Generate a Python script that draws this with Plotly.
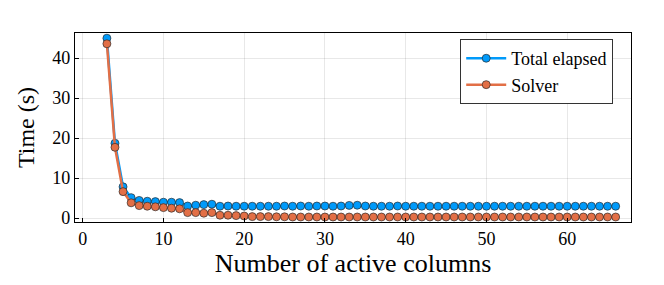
import plotly.graph_objects as go

columns = list(range(3, 67))
total_elapsed = [45.0, 18.7, 7.8, 5.1, 4.4, 4.2, 4.1, 3.95, 3.95, 3.85, 3.0, 3.2, 3.35, 3.45, 2.95, 3.0,
                 2.95, 2.95, 2.95, 2.95, 2.95, 2.95, 3.0, 2.95, 3.0, 2.95, 3.0, 3.0, 2.95, 3.0,
                 3.15, 3.2, 3.0, 2.95, 2.95, 2.95, 3.0, 2.95, 2.95, 2.95, 2.95, 2.95, 2.95, 2.95,
                 2.95, 2.95, 2.95, 2.95, 2.95, 2.95, 2.95, 2.95, 2.95, 2.95, 2.95, 2.95, 2.95, 2.95,
                 2.95, 2.95, 2.95, 2.95, 2.95, 2.95]
solver = [43.6, 17.7, 6.6, 3.8, 3.1, 2.95, 2.8, 2.6, 2.45, 2.3, 1.35, 1.35, 1.2, 1.35, 0.7, 0.7,
          0.6, 0.5, 0.35, 0.35, 0.35, 0.3, 0.3, 0.25, 0.25, 0.25, 0.25, 0.25, 0.25, 0.25,
          0.25, 0.25, 0.25, 0.25, 0.25, 0.25, 0.25, 0.25, 0.25, 0.25, 0.25, 0.25, 0.25, 0.25,
          0.25, 0.25, 0.25, 0.25, 0.25, 0.25, 0.25, 0.25, 0.25, 0.25, 0.25, 0.25, 0.25, 0.25,
          0.25, 0.25, 0.25, 0.25, 0.25, 0.25]
series_names = ["Total elapsed", "Solver"]
x_ticks = [0, 10, 20, 30, 40, 50, 60]
y_ticks = [0, 10, 20, 30, 40]

FONT = "Liberation Serif"
colors = ["#009AFA", "#E26F46"]

fig = go.Figure()
for name, vals, c in zip(series_names, [total_elapsed, solver], colors):
    fig.add_trace(go.Scatter(
        x=columns, y=vals, name=name, mode="lines+markers",
        line=dict(color=c, width=2.5),
        marker=dict(color=c, size=8, line=dict(color="rgba(40,40,40,0.85)", width=0.8)),
    ))

axis_common = dict(
    showline=True, mirror=True, linecolor="black", linewidth=1.2,
    showgrid=True, gridcolor="rgba(0,0,0,0.09)", gridwidth=0.7,
    zeroline=False, ticks="inside", ticklen=4, tickcolor="black", tickwidth=1,
    tickfont=dict(family=FONT, size=18, color="black"),
    automargin=False,
)

fig.update_layout(
    width=664, height=285,
    margin=dict(l=75, r=33, t=33, b=63),
    paper_bgcolor="white", plot_bgcolor="white",
    font=dict(family=FONT, color="black"),
    xaxis=dict(range=[-0.95, 67.9], tickvals=x_ticks,
               title=dict(text="Number of active columns", font=dict(family=FONT, size=26), standoff=6),
               **axis_common),
    yaxis=dict(range=[-1.0, 46.3], tickvals=y_ticks,
               title=dict(text="Time (s)", font=dict(family=FONT, size=24), standoff=10),
               **axis_common),
    legend=dict(x=0.968, y=0.968, xanchor="right", yanchor="top",
                bgcolor="white", bordercolor="#333", borderwidth=1,
                font=dict(family=FONT, size=18), tracegroupgap=0,
                itemwidth=40),
    showlegend=True,
)

fig.write_html("out.html", config={"displayModeBar": False},
               post_script="document.body.style.margin='0';")
